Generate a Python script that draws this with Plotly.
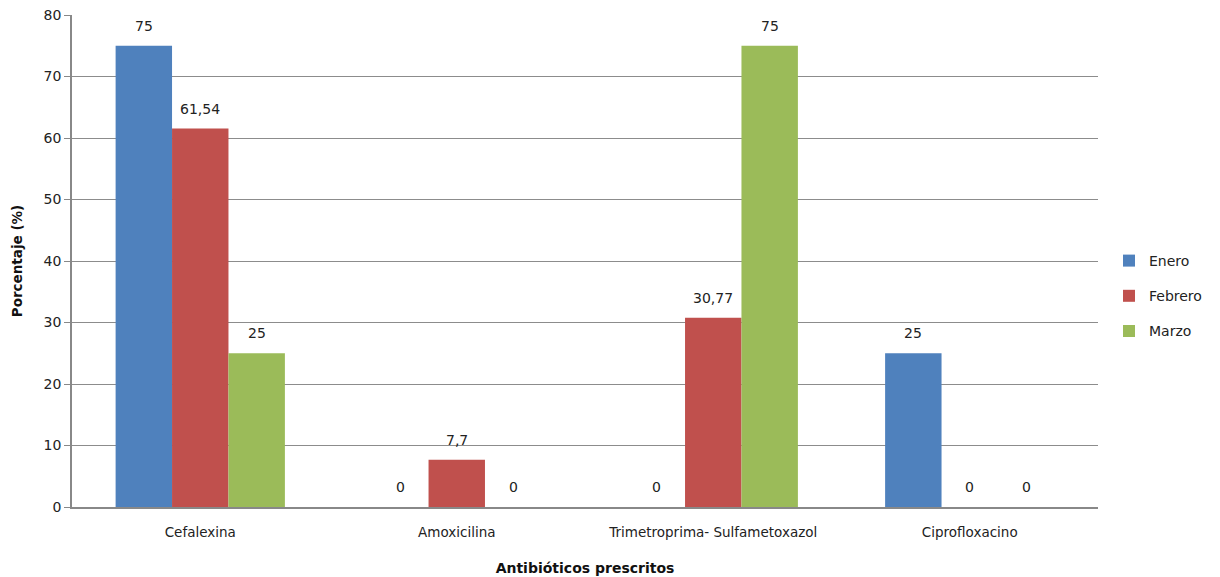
import plotly.graph_objects as go

categories = ["Cefalexina", "Amoxicilina", "Trimetroprima- Sulfametoxazol", "Ciprofloxacino"]
enero = [75, 0, 0, 25]
febrero = [61.54, 7.7, 30.77, 0]
marzo = [25, 0, 75, 0]
y_ticks = [0, 10, 20, 30, 40, 50, 60, 70, 80]

series = [("Enero", enero, "#4F81BD"), ("Febrero", febrero, "#C0504D"), ("Marzo", marzo, "#9BBB59")]

FONT = "DejaVu Sans"


def fmt(v):
    s = f"{v:g}"
    return s.replace(".", ",")


fig = go.Figure()
for i, (name, vals, color) in enumerate(series):
    fig.add_trace(go.Bar(
        name=name, x=categories, y=vals,
        marker=dict(color=color, line=dict(width=0)),
        text=[fmt(v) for v in vals],
        textposition="none",
        legendgroup=name,
        offsetgroup=str(i),
    ))

fig.update_layout(
    barmode="group",
    bargap=0.34,
    bargroupgap=0,
    width=1220, height=577,
    margin=dict(l=72, r=122, t=15, b=70, autoexpand=False),
    plot_bgcolor="white", paper_bgcolor="white",
    separators=",.",
    font=dict(family=FONT, size=13, color="#222222"),
    showlegend=True,
    legend=dict(xref="container", yref="container", x=0.909, y=0.487,
                xanchor="left", yanchor="middle",
                font=dict(family=FONT, size=14, color="#222222"),
                tracegroupgap=14, itemwidth=30),
    xaxis=dict(
        title=dict(text="<b>Antibióticos prescritos</b>", font=dict(family=FONT, size=14, color="#111111"), standoff=24),
        showline=True, linecolor="#888888", linewidth=1.5,
        tickfont=dict(family=FONT, size=13.5, color="#222222"),
        ticks="", ticklabelstandoff=12, automargin=False,
    ),
    yaxis=dict(
        title=dict(text="<b>Porcentaje (%)</b>", font=dict(family=FONT, size=13.5, color="#111111"), standoff=18),
        range=[0, 80], tickvals=y_ticks,
        showgrid=True, gridcolor="#8C8C8C", gridwidth=1,
        showline=True, linecolor="#888888", linewidth=1.5,
        ticks="outside", ticklen=6, tickcolor="#888888",
        tickfont=dict(family=FONT, size=14, color="#222222"),
        zeroline=False, automargin=False,
    ),
)

# value labels above each bar, placed at each bar's own value
for i, (name, vals, color) in enumerate(series):
    for j, v in enumerate(vals):
        fig.add_annotation(
            x=j + (i - 1) * 0.22, y=v, xref="x", yref="y",
            text=fmt(v), showarrow=False, yanchor="middle", yshift=20,
            font=dict(family=FONT, size=14, color="#222222"),
        )

fig.write_html("out.html")
